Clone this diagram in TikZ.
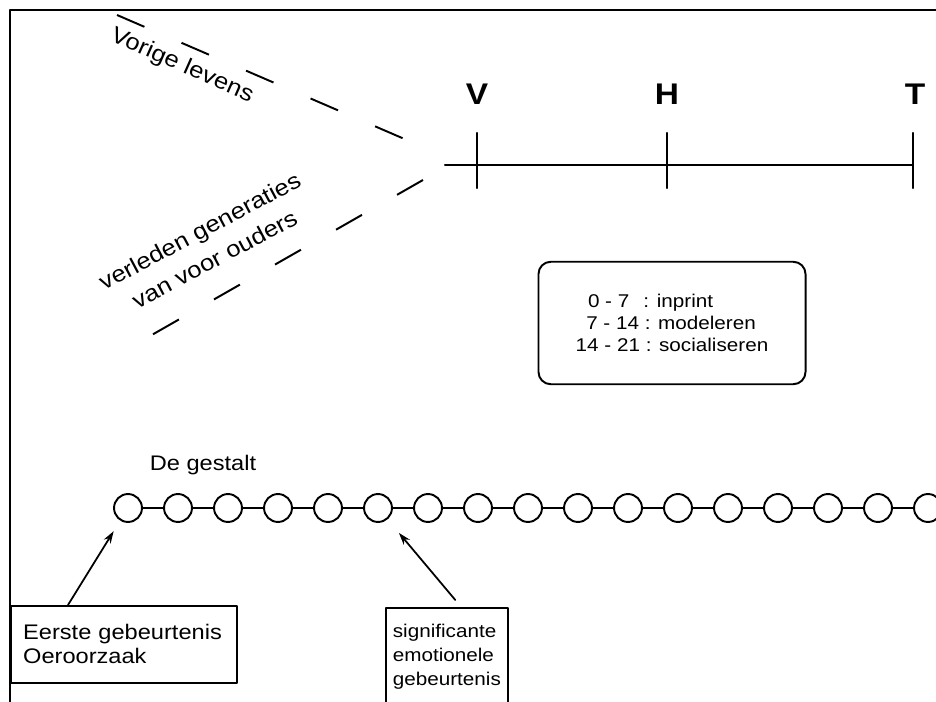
\documentclass[tikz,border=0pt]{standalone}
\usepackage{fontspec}
\setmainfont{Liberation Sans}[FakeStretch=1.12]
\usetikzlibrary{arrows.meta}
\usetikzlibrary{positioning}

\begin{document}
\begin{tikzpicture}[line cap=round,line join=round,>={Stealth[length=7pt,width=4.5pt]},x=0.02cm,y=-0.02cm,
  bead/.style={circle,draw,line width=1.1pt,minimum size=15.9pt,inner sep=0pt},
  letter/.style={font=\fontsize{17}{20}\selectfont\bfseries},
  pastline/.style={line width=1.1pt,dash pattern=on 17pt off 23pt,line cap=butt},
  remark/.style={draw,line width=1pt,align=left,inner xsep=6pt},
  slanted/.style={font=\fontsize{13}{18}\selectfont,align=center}]
\useasboundingbox (0,0) rectangle (936,702);
\draw[line width=1.1pt] (10,702) -- (10,10) -- (936,10);
\coordinate (tl0) at (445,165);
\coordinate (tlV) at (477,165);
\coordinate (tlH) at (667,165);
\coordinate (tlT) at (913,165);
\draw[line width=1.2pt] (tl0) -- (tlT);
\foreach \p in {V,H,T}
\draw[line width=1.2pt] (tl\p) ++(0,-32) -- ++(0,55);
\node[letter] (lblV) at (477,94) {V};
\node[letter] (lblH) at (667,94) {H};
\node[letter] (lblT) at (915,94) {T};
\coordinate (lifeA) at (117,15);
\coordinate (lifeB) at (423,147);
\coordinate (genA) at (423,180);
\coordinate (genB) at (136,344);
\draw[pastline] (lifeA) -- (lifeB);
\draw[pastline] (genA) -- (genB);
\node[slanted,rotate=-24] (life) at (182,66) {Vorige levens};
\node[slanted,rotate=28] (gen) at (207,245) {verleden generaties\\van voor ouders};
\node[draw,line width=1.1pt,rounded corners=7pt,minimum width=152pt,minimum height=69.7pt,align=left,font=\fontsize{10.5}{12.5}\selectfont] (stages) at (672,323) {\hspace*{7pt}0 - 7\hspace*{8pt}: inprint\\\hspace*{6pt}7 - 14 : modeleren\\14 - 21 : socialiseren};
\foreach \i in {1,...,17}
\node[bead] (c\i) at ({128+50*(\i-1)},508) {};
\foreach \i [count=\j from 2] in {1,...,16}
\draw[line width=0.9pt] (c\i) -- (c\j);
\node[font=\fontsize{12}{14}\selectfont] (gestalt) at (203,465) {De gestalt};
\node[remark,anchor=north west,inner xsep=7pt,text width=114.7pt,minimum height=43.7pt,font=\fontsize{12}{13.6}\selectfont] (first) at (10,605) {Eerste gebeurtenis\\Oeroorzaak};
\node[remark,anchor=north west,inner xsep=4pt,minimum height=56pt,font=\fontsize{10.5}{13.6}\selectfont] (second) at (385,607) {significante\\emotionele\\gebeurtenis};
\coordinate (tail1) at ([xshift=33pt]first.north west);
\coordinate (tail2) at ([xshift=40pt,yshift=4pt]second.north west);
\draw[->,line width=1pt,shorten >=7pt] (tail1) -- (c1);
\draw[->,line width=1pt,shorten >=10pt] (tail2) -- (c6);
\end{tikzpicture}
\end{document}
